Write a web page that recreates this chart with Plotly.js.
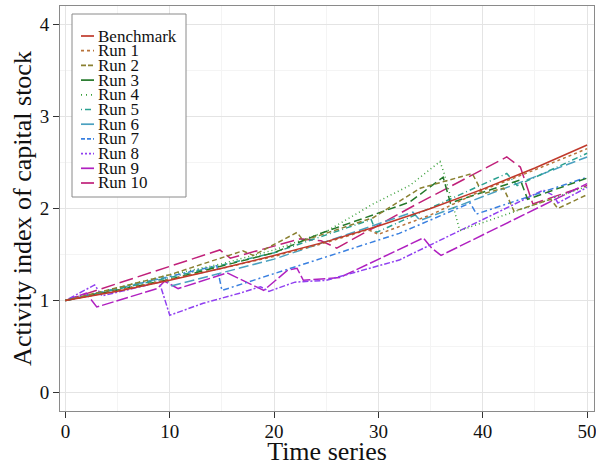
<!DOCTYPE html>
<html>
<head>
<meta charset="utf-8">
<script src="https://cdn.plot.ly/plotly-3.0.1.min.js"></script>
<style>html,body{margin:0;padding:0;background:#fff;}#chart{width:596px;height:466px;}</style>
</head>
<body>
<div id="chart"></div>
<script>
// ---- data ----
var seriesNames = ["Benchmark","Run 1","Run 2","Run 3","Run 4","Run 5","Run 6","Run 7","Run 8","Run 9","Run 10"];

var benchT = [0,5,10,15,20,25,30,35,40,45,50];
var benchV = [1.00,1.10,1.22,1.35,1.49,1.64,1.81,2.00,2.21,2.44,2.69];

var run1T = [0,5,10,15,20,25,29,30,35,40,45,50];
var run1V = [1,1.11,1.23,1.35,1.48,1.63,1.77,1.72,1.93,2.20,2.42,2.65];

var run2T = [0,10,17,18,22.2,22.8,29.5,34,39,40,42,43,46.5,47.2,50];
var run2V = [1,1.28,1.54,1.49,1.74,1.65,1.90,2.22,2.38,2.16,2.22,1.97,2.10,2.00,2.15];

var run3T = [0,10,20,24.7,33,36.2,36.9,43.6,44.3,50];
var run3V = [1,1.23,1.52,1.74,2.07,2.34,2.06,2.31,2.10,2.33];

var run4T = [0,10,15,20,25,29.5,33,35.9,36.3,37.8,50];
var run4V = [1,1.28,1.40,1.55,1.75,2.05,2.25,2.51,2.38,1.76,2.24];

var run5T = [0,10,20,29.3,29.8,42.3,43.3,50];
var run5V = [1,1.25,1.52,1.88,1.74,2.38,2.25,2.60];

var run6T = [0,9.5,10.2,20,33.3,34,50];
var run6V = [1,1.25,1.16,1.45,1.96,1.87,2.56];

var run7T = [0,14.5,15,32,38.8,39.4,50];
var run7V = [1,1.38,1.11,1.73,2.06,1.94,2.34];

var run8T = [0,2.8,3.5,9,10,13.2,16.7,18.7,19.5,22,25,32,45.8,46.8,47.2,50];
var run8V = [1,1.17,1.05,1.20,0.84,0.97,1.08,1.15,1.10,1.20,1.22,1.44,2.20,2.14,2.06,2.23];

var run9T = [0,2,3,8.8,9.5,10.8,15.5,19,21.3,22.2,22.8,26.3,34.3,35.1,36,50];
var run9V = [1,1.08,0.93,1.13,1.21,1.13,1.30,1.11,1.33,1.35,1.22,1.25,1.68,1.57,1.49,2.27];

var run10T = [0,14.8,15.8,22.5,24.5,26,33.7,42.3,43.6,44.8,50];
var run10V = [1,1.55,1.46,1.67,1.65,1.57,2.05,2.56,2.45,2.05,2.25];

var xTicks = [0,10,20,30,40,50];
var yTicks = [0,1,2,3,4];

// ---- styles ----
var colors = ["#c0392b","#b8733a","#8a8030","#23782a","#3aa03a","#2aa090","#4aa0c0","#3a80e0","#9040f0","#b020c0","#c0207a"];
var dashes = ["solid","3px,3px","5px,3px","8px,4px","1px,3px","1px,3px,6px,3px","10px,4px","6px,3px,2px,3px","2px,2px,6px,2px","12px,3px","14px,5px"];
var legendDash = ["solid","3px,3px","5px,2px","solid","1px,4px","1px,3px,6px,3px","solid","4px,2px","2px,2px","solid","solid"];

var allT = [benchT,run1T,run2T,run3T,run4T,run5T,run6T,run7T,run8T,run9T,run10T];
var allV = [benchV,run1V,run2V,run3V,run4V,run5V,run6V,run7V,run8V,run9V,run10V];

var FONT = "Liberation Serif";
var traces = [];
for (var i = allT.length - 1; i >= 0; i--) {
  traces.push({
    type: "scatter", mode: "lines", name: seriesNames[i],
    x: allT[i], y: allV[i],
    line: {color: colors[i], width: 1.5, dash: dashes[i]},
    showlegend: false, hoverinfo: "skip"
  });
}

// manual legend (ggplot-like compact key)
var L = 60, R = 594, T = 6, B = 411;
function px2x(px){ return (px - L) / (R - L); }
function py2y(py){ return (B - py) / (B - T); }
var shapes = [{type:"rect", xref:"paper", yref:"paper", x0:px2x(72), x1:px2x(186), y0:py2y(197), y1:py2y(14),
  line:{color:"#8a8a8a", width:1}, fillcolor:"#ffffff", layer:"above"}];
var annotations = [];
for (var k = 0; k < seriesNames.length; k++) {
  var yc = 36 + k * 14.7;
  shapes.push({type:"line", xref:"paper", yref:"paper", x0:px2x(81), x1:px2x(94), y0:py2y(yc), y1:py2y(yc),
    line:{color:colors[k], width:1.7, dash:legendDash[k]}, layer:"above"});
  annotations.push({xref:"paper", yref:"paper", x:px2x(97), y:py2y(yc), xanchor:"left", yanchor:"middle",
    text:seriesNames[k], showarrow:false, borderpad:0, font:{family:FONT, size:17, color:"#111"}});
}

var layout = {
  width: 596, height: 466,
  margin: {l: 60, r: 2, t: 6, b: 55},
  paper_bgcolor: "#ffffff", plot_bgcolor: "#ffffff",
  font: {family: FONT, color: "#111"},
  showlegend: false,
  xaxis: {
    range: [-0.52, 50.66], tickvals: xTicks, ticks: "outside", ticklen: 6, tickwidth: 1, tickcolor: "#333",
    tickfont: {family: FONT, size: 19, color: "#111"}, ticklabelstandoff: -3, ticklabeloverflow: "allow",
    showgrid: true, gridcolor: "#e4e4e4", gridwidth: 1,
    minor: {dtick: 5, showgrid: true, gridcolor: "#f4f4f4", ticks: ""},
    zeroline: false, showline: true, mirror: true, linecolor: "#8a8a8a", linewidth: 1,
    title: {text: "Time series", font: {family: FONT, size: 26, color: "#111"}, standoff: 0},
    automargin: false
  },
  yaxis: {
    range: [-0.2, 4.2], tickvals: yTicks, ticks: "outside", ticklen: 6, tickwidth: 1, tickcolor: "#333",
    tickfont: {family: FONT, size: 19, color: "#111"}, ticklabelstandoff: 0, ticklabeloverflow: "allow",
    showgrid: true, gridcolor: "#e4e4e4", gridwidth: 1,
    minor: {dtick: 0.5, showgrid: true, gridcolor: "#f4f4f4", ticks: ""},
    zeroline: false, showline: true, mirror: true, linecolor: "#8a8a8a", linewidth: 1,
    title: {text: "Activity index of capital stock", font: {family: FONT, size: 26, color: "#111"}, standoff: 0},
    automargin: false
  },
  shapes: shapes,
  annotations: annotations
};

Plotly.newPlot("chart", traces, layout, {displayModeBar: false, staticPlot: true});
</script>
</body>
</html>
